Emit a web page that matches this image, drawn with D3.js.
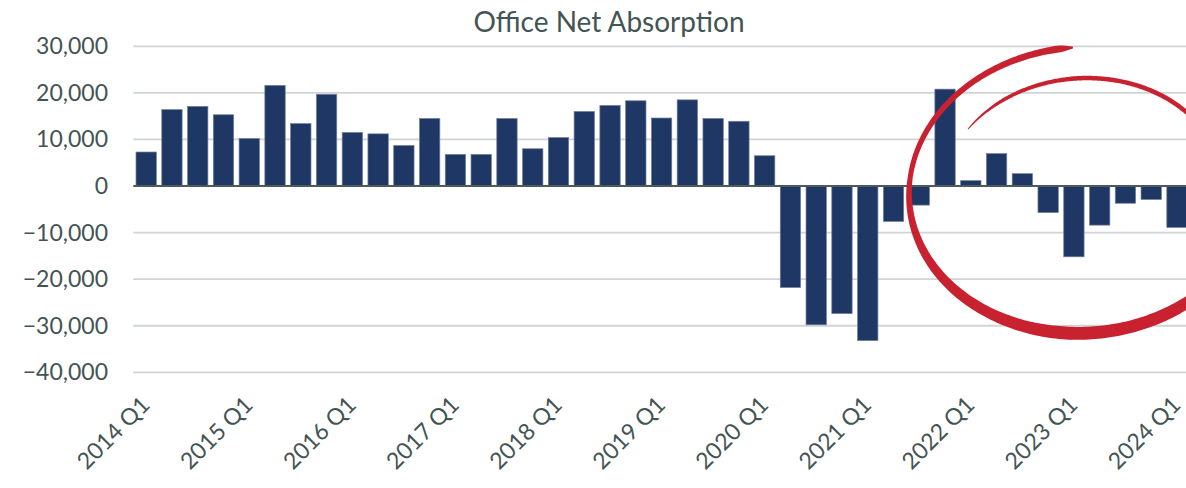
<!DOCTYPE html>
<html>
<head>
<meta charset="utf-8">
<script src="https://cdn.jsdelivr.net/npm/d3@7"></script>
<style>
  body { margin:0; background:#fff; }
  text { font-family: Lato, "Open Sans", sans-serif; fill:#435454; }
</style>
</head>
<body>
<svg id="svg" width="1186" height="488"></svg>
<script>
	// quarters shown on the x axis
	var quarters = [
		"2014 Q1","2014 Q2","2014 Q3","2014 Q4",
		"2015 Q1","2015 Q2","2015 Q3","2015 Q4",
		"2016 Q1","2016 Q2","2016 Q3","2016 Q4",
		"2017 Q1","2017 Q2","2017 Q3","2017 Q4",
		"2018 Q1","2018 Q2","2018 Q3","2018 Q4",
		"2019 Q1","2019 Q2","2019 Q3","2019 Q4",
		"2020 Q1","2020 Q2","2020 Q3","2020 Q4",
		"2021 Q1","2021 Q2","2021 Q3","2021 Q4",
		"2022 Q1","2022 Q2","2022 Q3","2022 Q4",
		"2023 Q1","2023 Q2","2023 Q3","2023 Q4",
		"2024 Q1"
	];

	// net absorption per quarter (sq ft)
	var absorption = [
		7300, 16400, 17100, 15300,
		10200, 21600, 13400, 19700,
		11500, 11200, 8700, 14500,
		6800, 6800, 14500, 8000,
		10400, 16000, 17300, 18300,
		14600, 18500, 14500, 13900,
		6500, -21800, -29800, -27400,
		-33200, -7600, -4100, 20800,
		1150, 6950, 2650, -5700,
		-15200, -8400, -3700, -2900,
		-8900
	];

	var tickLabels = ["2014 Q1","2015 Q1","2016 Q1","2017 Q1","2018 Q1","2019 Q1",
		"2020 Q1","2021 Q1","2022 Q1","2023 Q1","2024 Q1"];
	var yTicks = [30000, 20000, 10000, 0, -10000, -20000, -30000, -40000];

	var svg = d3.select("#svg");

	var margin = {left:133.3, top:46.3, bottom:372.3};
	var step = 25.77;

	var x = d3.scaleBand()
		.domain(quarters)
		.range([margin.left, margin.left + step*quarters.length])
		.paddingInner(0.21)
		.paddingOuter(0.105);

	var y = d3.scaleLinear()
		.domain([-40000, 30000])
		.range([margin.bottom, margin.top]);

	var fmt = d3.format(",");

	// title
	svg.append('text')
		.attr('x', 609)
		.attr('y', 32)
		.attr('text-anchor','middle')
		.style('font-size','28px')
		.text("Office Net Absorption");

	// gridlines
	svg.append('g')
		.selectAll('line')
		.data(yTicks.filter(d=>d!==0))
		.join('line')
		.attr('x1', margin.left)
		.attr('x2', 1186)
		.attr('y1', d=>y(d))
		.attr('y2', d=>y(d))
		.style('stroke','#cfd5d7')
		.style('stroke-width',1.8);

	// y labels
	svg.append('g')
		.selectAll('text')
		.data(yTicks)
		.join('text')
		.attr('x', 108)
		.attr('y', d=>y(d))
		.attr('dy','0.35em')
		.attr('text-anchor','end')
		.style('font-size','23px')
		.text(d=>fmt(d));

	// bars
	svg.append('g')
		.selectAll('rect')
		.data(absorption)
		.join('rect')
		.attr('x', (d,i)=>x(quarters[i]))
		.attr('y', d=>y(Math.max(0,d)))
		.attr('width', x.bandwidth())
		.attr('height', d=>Math.abs(y(d)-y(0)))
		.style('fill','#1f3764')
		.style('stroke','#71809a')
		.style('stroke-width',0.7);

	// zero line
	svg.append('line')
		.attr('x1', margin.left)
		.attr('x2', 1186)
		.attr('y1', y(0))
		.attr('y2', y(0))
		.style('stroke','#4d5a5c')
		.style('stroke-width',1.8);

	// x labels, rotated
	svg.append('g')
		.selectAll('text')
		.data(tickLabels)
		.join('text')
		.attr('transform', d=>"translate(" + (x(d) + x.bandwidth()/2 + 5) + "," + (margin.bottom + 34) + ") rotate(-45)")
		.attr('text-anchor','end')
		.style('font-size','23px')
		.text(d=>d);

	// red hand drawn circle round the recent quarters
	var cx = x("2023 Q1") + x.bandwidth()/2 + 9;
	var cy = y(-900);
	var tilt = -4 * Math.PI/180;
	var red = "#c8212f";

	function brush(rx, ry, angles, widths) {
		var w = d3.scaleLinear().domain(angles).range(widths);
		var a0 = angles[0], a1 = angles[angles.length-1];
		var outer = [], inner = [];
		var ct = Math.cos(tilt), st = Math.sin(tilt);
		for (var k=0; k<=240; k++) {
			var deg = a0 + (a1-a0)*k/240;
			var a = deg * Math.PI/180;
			var dx = rx*Math.cos(a), dy = ry*Math.sin(a);
			var nx = Math.cos(a)/rx, ny = Math.sin(a)/ry;
			var nl = Math.sqrt(nx*nx + ny*ny);
			var h = w(deg)/2;
			var o = [dx + nx/nl*h, dy + ny/nl*h];
			var n = [dx - nx/nl*h, dy - ny/nl*h];
			outer.push([cx + o[0]*ct - o[1]*st, cy + o[0]*st + o[1]*ct]);
			inner.push([cx + n[0]*ct - n[1]*st, cy + n[0]*st + n[1]*ct]);
		}
		return d3.line()(outer.concat(inner.reverse())) + "Z";
	}

	svg.append('path')
		.attr('d', brush(174, 143, [15, 60, 100, 150, 190, 240, 266, 270], [9, 12, 13, 9, 5, 6, 7, 2]))
		.style('fill', red);

	svg.append('path')
		.attr('d', brush(140, 112, [218, 238, 270, 345], [1, 3.5, 4.5, 4.5]))
		.style('fill', red);
</script>
</body>
</html>
